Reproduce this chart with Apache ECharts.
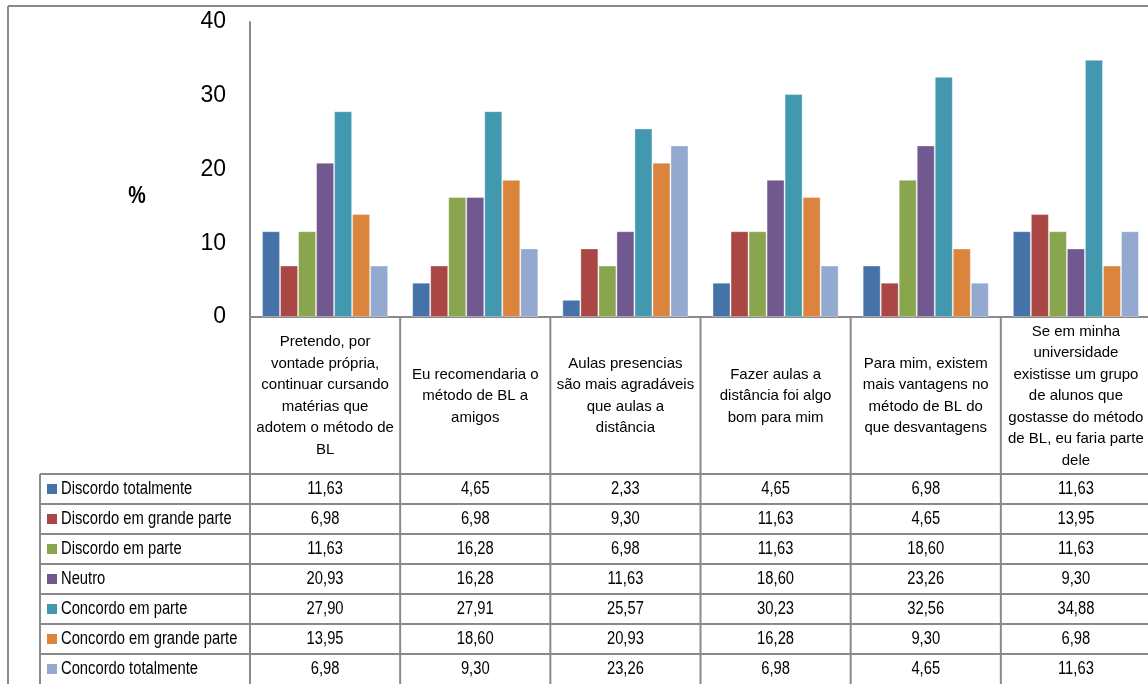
<!DOCTYPE html>
<html>
<head>
<meta charset="utf-8">
<script src="https://cdn.jsdelivr.net/npm/echarts/dist/echarts.min.js"></script>
<style>
  html, body { margin: 0; padding: 0; background: #fff; overflow: hidden; }
  #chart { width: 1148px; height: 684px; }
</style>
</head>
<body>
<div id="chart"></div>
<script>
// ---------- DATA ----------
const categories = [
  "Pretendo, por\nvontade própria,\ncontinuar cursando\nmatérias que\nadotem o método de\nBL",
  "Eu recomendaria o\nmétodo de BL a\namigos",
  "Aulas presencias\nsão mais agradáveis\nque aulas a\ndistância",
  "Fazer aulas a\ndistância foi algo\nbom para mim",
  "Para mim, existem\nmais vantagens no\nmétodo de BL do\nque desvantagens",
  "Se em minha\nuniversidade\nexistisse um grupo\nde alunos que\ngostasse do método\nde BL, eu faria parte\ndele"
];
const seriesNames = [
  "Discordo totalmente",
  "Discordo em grande parte",
  "Discordo em parte",
  "Neutro",
  "Concordo em parte",
  "Concordo em grande parte",
  "Concordo totalmente"
];
const discordoTotalmente    = [11.63, 4.65, 2.33, 4.65, 6.98, 11.63];
const discordoGrandeParte   = [6.98, 6.98, 9.30, 11.63, 4.65, 13.95];
const discordoEmParte       = [11.63, 16.28, 6.98, 11.63, 18.60, 11.63];
const neutro                = [20.93, 16.28, 11.63, 18.60, 23.26, 9.30];
const concordoEmParte       = [27.90, 27.91, 25.57, 30.23, 32.56, 34.88];
const concordoGrandeParte   = [13.95, 18.60, 20.93, 16.28, 9.30, 6.98];
const concordoTotalmente    = [6.98, 9.30, 23.26, 6.98, 4.65, 11.63];
const seriesValues = [
  discordoTotalmente, discordoGrandeParte, discordoEmParte, neutro,
  concordoEmParte, concordoGrandeParte, concordoTotalmente
];
const yTicks = [0, 10, 20, 30, 40];
const yAxisTitle = "%";

// ---------- STYLE ----------
const colors = ['#4572A7', '#AA4643', '#89A54E', '#71588F', '#4198AF', '#DB843D', '#93A9CF'];
const FONT = "'Liberation Sans', Arial, sans-serif";
const LINE = '#8a8a8a';
const NARROW = 0.82;

const chart = echarts.init(document.getElementById('chart'), null, { renderer: 'canvas' });

const gridLeft = 250, gridTop = 22, gridHeight = 295, gridWidth = 901;
const tableTop = 474, rowH = 30, tableLeft = 40;

const option = {
  animation: false,
  backgroundColor: '#fff',
  textStyle: { fontFamily: FONT },
  grid: {
    left: gridLeft, top: gridTop, width: gridWidth, height: gridHeight,
    containLabel: false, outerBoundsMode: 'none'
  },
  xAxis: {
    type: 'category',
    data: categories,
    axisLine: { show: true, lineStyle: { color: LINE, width: 2 } },
    axisTick: { show: false },
    axisLabel: {
      interval: 0,
      fontFamily: FONT,
      fontSize: 15,
      lineHeight: 21.5,
      color: '#000',
      verticalAlign: 'middle',
      align: 'center',
      margin: 79,
      hideOverlap: false
    },
    splitLine: { show: false }
  },
  yAxis: {
    type: 'value',
    min: yTicks[0],
    max: yTicks[yTicks.length - 1],
    interval: 10,
    axisLine: { show: true, lineStyle: { color: LINE, width: 2 } },
    axisTick: { show: false },
    splitLine: { show: false },
    axisLabel: { fontFamily: FONT, fontSize: 23, color: '#000', margin: 24 }
  },
  series: seriesNames.map((name, i) => ({
    name: name,
    type: 'bar',
    data: seriesValues[i],
    barGap: '0%',
    barCategoryGap: '16%',
    itemStyle: { color: colors[i], borderColor: 'rgba(255,255,255,0.35)', borderWidth: 1 }
  }))
};

chart.setOption(option);

// ---------- TABLE (positions from the library's category scale) ----------
const graphics = [];
const nCat = categories.length;
const centers = categories.map((c, i) => chart.convertToPixel({ xAxisIndex: 0 }, i));
const band = centers.length > 1 ? centers[1] - centers[0] : 150;
const bounds = centers.map(c => c - band / 2);
bounds.push(centers[nCat - 1] + band / 2);
const xAxisY = chart.convertToPixel({ yAxisIndex: 0 }, 0);
const bottom = 684;

function hline(y, x1, x2) {
  graphics.push({ type: 'line', shape: { x1: x1, y1: y, x2: x2, y2: y }, style: { stroke: LINE, lineWidth: 2 }, silent: true });
}
function vline(x, y1, y2) {
  graphics.push({ type: 'line', shape: { x1: x, y1: y1, x2: x, y2: y2 }, style: { stroke: LINE, lineWidth: 2 }, silent: true });
}
function narrowText(text, x, y, size, align, bold) {
  graphics.push({
    type: 'text', x: x, y: y, scaleX: NARROW, scaleY: 1,
    style: {
      text: text, font: (bold ? 'bold ' : '') + size + 'px ' + FONT, fill: '#000',
      textAlign: align, textVerticalAlign: 'middle'
    },
    silent: true
  });
}

// outer chart-area border (top & left)
hline(6, 8, 1148);
vline(8, 6, bottom);

// category label column separators
bounds.forEach(x => vline(x, xAxisY, bottom));
// table left edge
vline(tableLeft, tableTop, bottom);
// table horizontal lines
for (let r = 0; r < seriesNames.length; r++) {
  hline(tableTop + r * rowH, tableLeft, 1148);
}

// rows
seriesNames.forEach((name, r) => {
  const cy = tableTop + r * rowH + rowH / 2;
  graphics.push({
    type: 'rect', shape: { x: 47, y: cy - 5, width: 10, height: 10 },
    style: { fill: colors[r] }, silent: true
  });
  narrowText(name, 61, cy, 18, 'left', false);
  seriesValues[r].forEach((v, c) => {
    narrowText(v.toFixed(2).replace('.', ','), centers[c], cy, 18, 'center', false);
  });
});

// y-axis title
narrowText(yAxisTitle, 137, 196, 24, 'center', true);

chart.setOption({ graphic: graphics });
</script>
</body>
</html>
